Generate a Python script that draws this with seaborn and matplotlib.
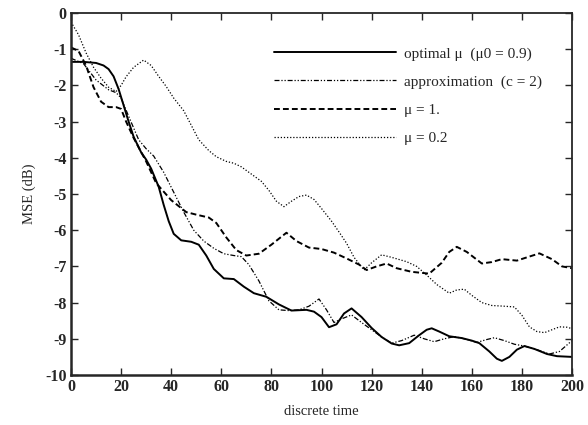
import numpy as np
import pandas as pd
import seaborn as sns
import matplotlib.pyplot as plt

# optimal mu (mu0 = 0.9)
t_opt = [0, 5, 10, 13, 15, 17, 19, 21, 23, 25, 28, 30, 32, 35, 37, 39, 41, 44, 48, 51,
         54, 57, 61, 65, 69, 73, 78, 83, 88, 94, 97, 100, 103, 106, 109, 112, 116, 120,
         124, 128, 131, 135, 139, 142, 144, 147, 151, 156, 160, 163, 167, 170, 172, 175,
         178, 181, 185, 190, 194, 200]
mse_opt = [-1.35, -1.35, -1.38, -1.45, -1.55, -1.75, -2.1, -2.55, -3.0, -3.42, -3.85,
           -4.05, -4.3, -4.8, -5.3, -5.75, -6.1, -6.28, -6.32, -6.4, -6.7, -7.07, -7.33,
           -7.35, -7.56, -7.74, -7.84, -8.05, -8.22, -8.2, -8.25, -8.4, -8.68, -8.6, -8.3,
           -8.16, -8.4, -8.7, -8.95, -9.13, -9.18, -9.12, -8.9, -8.75, -8.71, -8.8, -8.93,
           -8.98, -9.05, -9.12, -9.35, -9.55, -9.61, -9.5, -9.3, -9.2, -9.28, -9.42,
           -9.48, -9.5]

# approximation (c = 2)
t_apx = [0, 5, 10, 15, 18, 20, 23, 27, 30, 33, 37, 41, 45, 49, 53, 57, 61, 65, 68, 71,
         75, 79, 83, 87, 91, 95, 99, 102, 105, 108, 112, 116, 120, 124, 128, 132, 137,
         141, 145, 149, 153, 157, 162, 166, 169, 173, 177, 181, 186, 191, 195, 200]
mse_apx = [-1.25, -1.4, -1.85, -2.12, -2.2, -2.35, -2.85, -3.5, -3.75, -3.95, -4.4,
           -4.95, -5.5, -6.0, -6.3, -6.5, -6.65, -6.7, -6.73, -6.95, -7.4, -7.95, -8.2,
           -8.22, -8.2, -8.1, -7.9, -8.2, -8.55, -8.45, -8.34, -8.55, -8.75, -8.95, -9.12,
           -9.05, -8.9, -9.0, -9.08, -9.0, -8.94, -9.0, -9.1, -9.02, -8.97, -9.05, -9.15,
           -9.2, -9.3, -9.42, -9.35, -9.05]

# mu = 1.
t_mu1 = [0, 3, 6, 9, 12, 15, 18, 20, 22, 25, 30, 34, 40, 46, 50, 55, 58, 62, 66, 70, 75,
         80, 86, 90, 95, 100, 105, 110, 115, 118, 122, 126, 130, 136, 143, 148, 151, 154,
         158, 164, 168, 172, 178, 182, 187, 192, 196, 200]
mse_mu1 = [-0.95, -1.05, -1.45, -2.05, -2.45, -2.6, -2.6, -2.65, -3.0, -3.45, -4.1, -4.7,
           -5.17, -5.5, -5.57, -5.65, -5.8, -6.2, -6.55, -6.7, -6.65, -6.4, -6.07, -6.3,
           -6.48, -6.52, -6.62, -6.78, -6.95, -7.1, -7.0, -6.92, -7.05, -7.15, -7.2, -6.9,
           -6.6, -6.46, -6.6, -6.92, -6.88, -6.8, -6.84, -6.75, -6.64, -6.8, -7.0, -7.05]

# mu = 0.2
t_mu02 = [0, 3, 6, 9, 12, 15, 18, 20, 22, 25, 29, 32, 35, 38, 41, 45, 48, 51, 55, 58,
          62, 65, 68, 72, 76, 79, 82, 85, 88, 91, 94, 97, 100, 104, 107, 110, 113, 117,
          120, 124, 128, 134, 138, 142, 146, 151, 154, 157, 160, 164, 168, 173, 177, 180,
          183, 186, 189, 192, 195, 198, 200]
mse_mu02 = [-0.25, -0.6, -1.1, -1.5, -1.8, -2.05, -2.17, -2.0, -1.76, -1.5, -1.3, -1.45,
            -1.75, -2.03, -2.35, -2.7, -3.1, -3.5, -3.8, -3.97, -4.1, -4.15, -4.25, -4.45,
            -4.65, -4.9, -5.2, -5.35, -5.2, -5.07, -5.03, -5.15, -5.4, -5.75, -6.05, -6.36,
            -6.75, -7.1, -6.9, -6.68, -6.75, -6.87, -7.0, -7.24, -7.5, -7.74, -7.65, -7.63,
            -7.8, -8.0, -8.08, -8.1, -8.12, -8.35, -8.67, -8.8, -8.83, -8.75, -8.67, -8.68,
            -8.72]

labels = ["optimal \u03bc  (\u03bc0 = 0.9)", "approximation  (c = 2)", "\u03bc = 1.", "\u03bc = 0.2"]

sns.set_style("ticks")
plt.rcParams["font.family"] = ["Liberation Serif", "DejaVu Serif"]
plt.rcParams["axes.unicode_minus"] = False

fig = plt.figure(figsize=(5.88, 4.25), dpi=100)
ax = fig.add_axes([71 / 588, 1 - 375 / 425, 501 / 588, 362 / 425])

series = [
    (t_opt, mse_opt, dict(linestyle="-", linewidth=1.4)),
    (t_apx, mse_apx, dict(linestyle=(0, (4, 1.5, 1, 1.5, 1, 1.5)), linewidth=0.9)),
    (t_mu1, mse_mu1, dict(linestyle=(0, (3, 1.6)), linewidth=1.4)),
    (t_mu02, mse_mu02, dict(linestyle=(0, (1, 1.5)), linewidth=0.9)),
]
for (t, m, style), lab in zip(series, labels):
    sns.lineplot(x=t, y=m, ax=ax, color="black", label=lab, **style)

ax.set_xlim(0, 200)
ax.set_ylim(-10, 0)
ax.set_xticks(range(0, 201, 20))
ax.set_yticks(range(-10, 1, 1))
ax.tick_params(direction="in", length=5, width=1, top=True, right=True,
               labelsize=11.5, pad=3)
for lbl in ax.get_xticklabels() + ax.get_yticklabels():
    lbl.set_fontweight("bold")
for side in ["left", "bottom"]:
    ax.spines[side].set_linewidth(1.8)
for side in ["top", "right"]:
    ax.spines[side].set_linewidth(1.3)

ax.set_xlabel("discrete time", fontsize=10.5, labelpad=7)
ax.set_ylabel("MSE (dB)", fontsize=10.5, labelpad=7)

ax.legend(loc="upper left", bbox_to_anchor=(0.405, 0.907), frameon=False,
          fontsize=11, handlelength=8.0, handletextpad=0.5, labelspacing=0.95,
          borderpad=0, borderaxespad=0)

fig.savefig("out.png", dpi=100)
